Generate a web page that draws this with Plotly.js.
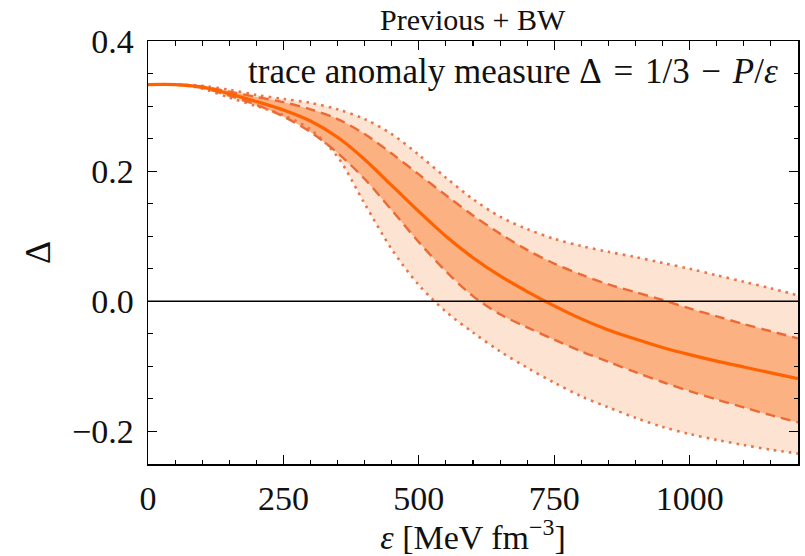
<!DOCTYPE html>
<html>
<head>
<meta charset="utf-8">
<script src="https://cdn.plot.ly/plotly-3.0.1.min.js"></script>
<style>html,body{margin:0;padding:0;background:#fff;}#chart{width:805px;height:556px;}</style>
</head>
<body>
<div id="chart"></div>
<script>
// energy density grid [MeV fm^-3]
const eps = [0, 50, 100, 150, 200, 250, 300, 350, 400, 450, 500, 550, 600, 650, 700, 750, 800, 850, 900, 950, 1000, 1050, 1100, 1150, 1200];
// median trace anomaly
const median = [0.333, 0.333, 0.329, 0.319, 0.307, 0.294, 0.277, 0.252, 0.218, 0.178, 0.138, 0.100, 0.067, 0.039, 0.015, -0.007, -0.027, -0.044, -0.058, -0.071, -0.082, -0.092, -0.101, -0.110, -0.119];
// inner band (dashed)
const innerUpper = [0.333, 0.333, 0.330, 0.322, 0.314, 0.306, 0.295, 0.280, 0.257, 0.227, 0.195, 0.163, 0.132, 0.104, 0.079, 0.058, 0.041, 0.026, 0.014, 0.002, -0.011, -0.023, -0.035, -0.046, -0.057];
const innerLower = [0.333, 0.333, 0.328, 0.316, 0.302, 0.284, 0.260, 0.228, 0.188, 0.140, 0.091, 0.046, 0.008, -0.020, -0.040, -0.059, -0.077, -0.093, -0.109, -0.124, -0.138, -0.151, -0.163, -0.175, -0.186];
// outer band (dotted)
const outerUpper = [0.333, 0.333, 0.331, 0.325, 0.317, 0.311, 0.305, 0.295, 0.280, 0.257, 0.225, 0.190, 0.157, 0.130, 0.111, 0.096, 0.085, 0.076, 0.068, 0.059, 0.050, 0.040, 0.030, 0.020, 0.009];
const outerLower = [0.333, 0.333, 0.327, 0.313, 0.300, 0.286, 0.264, 0.222, 0.150, 0.080, 0.025, -0.016, -0.048, -0.077, -0.102, -0.125, -0.146, -0.163, -0.179, -0.193, -0.204, -0.213, -0.221, -0.228, -0.234];

const xTicks = [0, 250, 500, 750, 1000];
const yTicks = [-0.2, 0.0, 0.2, 0.4];

const FONT = '"Liberation Serif", "Times New Roman", serif';
const cOuterFill = '#fde3d1';
const cInnerFill = '#fbb182';
const cSolid = '#ff6200';
const cDash = '#ec6a36';
const cDot = '#e8764c';
const SM = 0.9;

const traces = [
  {x: eps, y: outerUpper, mode: 'lines', line: {width: 0, shape: 'spline', smoothing: SM}, hoverinfo: 'skip', showlegend: false},
  {x: eps, y: outerLower, mode: 'lines', fill: 'tonexty', fillcolor: cOuterFill, line: {width: 0, shape: 'spline', smoothing: SM}, hoverinfo: 'skip', showlegend: false},
  {x: eps, y: innerUpper, mode: 'lines', line: {width: 0, shape: 'spline', smoothing: SM}, hoverinfo: 'skip', showlegend: false},
  {x: eps, y: innerLower, mode: 'lines', fill: 'tonexty', fillcolor: cInnerFill, line: {width: 0, shape: 'spline', smoothing: SM}, hoverinfo: 'skip', showlegend: false},
  {x: eps, y: outerUpper, mode: 'lines', line: {color: cDot, width: 2.6, dash: '2.6px,5px', shape: 'spline', smoothing: SM}, showlegend: false},
  {x: eps, y: outerLower, mode: 'lines', line: {color: cDot, width: 2.6, dash: '2.6px,5px', shape: 'spline', smoothing: SM}, showlegend: false},
  {x: eps, y: innerUpper, mode: 'lines', line: {color: cDash, width: 2.4, dash: '10px,6px', shape: 'spline', smoothing: SM}, showlegend: false},
  {x: eps, y: innerLower, mode: 'lines', line: {color: cDash, width: 2.4, dash: '10px,6px', shape: 'spline', smoothing: SM}, showlegend: false},
  {x: eps, y: median, mode: 'lines', line: {color: cSolid, width: 3.2, shape: 'spline', smoothing: SM}, showlegend: false},
  // invisible trace to activate the mirrored tick axes (top/right)
  {x: [eps[0]], y: [median[0]], xaxis: 'x2', yaxis: 'y2', mode: 'markers', marker: {opacity: 0}, hoverinfo: 'skip', showlegend: false}
];

const tickCommon = {
  ticks: 'inside', ticklen: 9, tickwidth: 1.3, tickcolor: '#000',
  showgrid: false, zeroline: false
};
const tickFont = {family: FONT, size: 34, color: '#111'};

const layout = {
  width: 805, height: 556,
  margin: {l: 148, r: 7, t: 41, b: 92},
  paper_bgcolor: '#fff', plot_bgcolor: '#fff',
  font: {family: FONT, color: '#111'},
  xaxis: Object.assign({}, tickCommon, {
    showline: true, linecolor: '#000', linewidth: 1.5, mirror: true,
    range: [0, 1200], tickvals: xTicks, ticktext: xTicks.map(String), tickfont: tickFont,
    minor: {dtick: 50, ticklen: 4.5, tickwidth: 1.1, tickcolor: '#000', ticks: 'inside'},
    ticklabelstandoff: 4,
    title: {text: '<i>ε</i> [MeV fm<sup>−3</sup>]', font: {family: FONT, size: 34, color: '#111'}, standoff: 9}
  }),
  yaxis: Object.assign({}, tickCommon, {
    showline: true, linecolor: '#000', linewidth: 1.5, mirror: true,
    range: [-0.25, 0.4], tickvals: yTicks, ticktext: yTicks.map(v => (v < 0 ? '−' : '') + Math.abs(v).toFixed(1)), tickfont: tickFont,
    minor: {dtick: 0.05, ticklen: 4.5, tickwidth: 1.1, tickcolor: '#000', ticks: 'inside'},
    ticklabelstandoff: 6,
    title: {text: 'Δ', font: {family: FONT, size: 36, color: '#111'}, standoff: 10}
  }),
  xaxis2: Object.assign({}, tickCommon, {
    overlaying: 'x', side: 'top', anchor: 'y2', matches: 'x', range: [0, 1200],
    tickvals: xTicks, showticklabels: false,
    minor: {dtick: 50, ticklen: 4.5, tickwidth: 1.1, tickcolor: '#000', ticks: 'inside'}
  }),
  yaxis2: Object.assign({}, tickCommon, {
    overlaying: 'y', side: 'right', anchor: 'x2', matches: 'y', range: [-0.25, 0.4],
    tickvals: yTicks, showticklabels: false,
    minor: {dtick: 0.05, ticklen: 4.5, tickwidth: 1.1, tickcolor: '#000', ticks: 'inside'}
  }),
  shapes: [
    {type: 'line', xref: 'paper', x0: 0, x1: 1, yref: 'y', y0: 0, y1: 0, line: {color: '#000', width: 1.5}, layer: 'above'}
  ],
  annotations: [
    {text: 'Previous + BW', xref: 'paper', yref: 'paper', x: 0.5, y: 1.052, xanchor: 'center', yanchor: 'middle', showarrow: false, font: {family: FONT, size: 30, color: '#111'}},
    {text: 'trace anomaly measure Δ\u2004=\u20041/3\u2004−\u2004<i>P</i>/<i>ε</i>', xref: 'paper', yref: 'paper', x: 0.972, y: 0.929, xanchor: 'right', yanchor: 'middle', showarrow: false, font: {family: FONT, size: 35, color: '#111'}}
  ]
};

Plotly.newPlot('chart', traces, layout, {displayModeBar: false, staticPlot: true});
</script>
</body>
</html>
